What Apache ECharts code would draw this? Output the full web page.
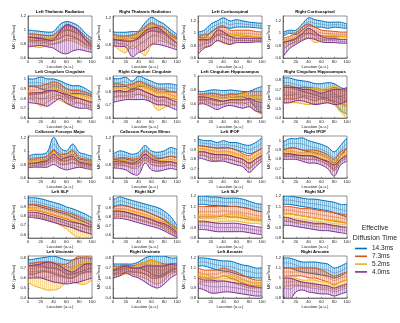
<!DOCTYPE html>
<html><head><meta charset="utf-8">
<script src="https://cdn.jsdelivr.net/npm/echarts@6/dist/echarts.min.js"></script>
<style>html,body{margin:0;padding:0;background:#fff}#c{width:400px;height:323px}</style>
</head><body><div id="c"></div>
<script>
const location_ = [0,10,20,30,40,50,60,70,80,90,100];
const durations = ['14.3ms','7.3ms','5.2ms','4.0ms'];
const titles = ['Left Thalamic Radiation','Right Thalamic Radiation','Left Corticospinal','Right Corticospinal',
 'Left Cingulum Cingulate','Right Cingulum Cingulate','Left Cingulum Hippocampus','Right Cingulum Hippocampus',
 'Callosum Forceps Major','Callosum Forceps Minor','Left IFOF','Right IFOF',
 'Left SLF','Right SLF','Left SLF','Right SLF',
 'Left Uncinate','Right Uncinate','Left Arcuate','Right Arcuate'];
const yMin = [0.6,0.6,0.6,0.6, 0.6,0.6,0.4,0.4, 0.6,0.6,0.6,0.6, 0.56,0.56,0.8,0.8, 0.4,0.4,0.8,0.8];
const yMax = [1.2,1.22,1.28,1.28, 1.03,0.92,1.0,0.84, 1.22,1.22,1.05,1.05, 1.02,1.03,1.2,1.2, 0.82,0.82,1.22,1.22];
const yTicks = [
 [0.6,0.8,1,1.2],[0.6,0.8,1,1.2],[0.6,0.8,1,1.2],[0.6,0.8,1,1.2],
 [0.6,0.7,0.8,0.9,1],[0.6,0.7,0.8,0.9],[0.4,0.6,0.8,1],[0.4,0.5,0.6,0.7,0.8],
 [0.6,0.8,1,1.2],[0.6,0.8,1,1.2],[0.6,0.7,0.8,0.9,1],[0.6,0.7,0.8,0.9,1],
 [0.6,0.7,0.8,0.9,1],[0.6,0.7,0.8,0.9,1],[0.8,0.9,1,1.1,1.2],[0.8,0.9,1,1.1,1.2],
 [0.4,0.5,0.6,0.7,0.8],[0.4,0.5,0.6,0.7,0.8],[0.8,0.9,1,1.1,1.2],[0.8,0.9,1,1.1,1.2]];

// each panel: [14.3 lo, 14.3 hi, 7.3 lo, 7.3 hi, 5.2 lo, 5.2 hi, 4.0 lo, 4.0 hi]
const leftThalamicRadiation = [
 [0.90,0.89,0.88,0.87,0.88,0.96,1.00,0.98,0.94,0.86,0.80],[1.00,0.99,0.98,0.97,0.98,1.08,1.12,1.10,1.05,0.95,0.88],
 [0.86,0.85,0.85,0.84,0.85,0.88,0.92,0.90,0.86,0.80,0.76],[0.95,0.94,0.93,0.92,0.93,1.00,1.06,1.05,1.00,0.90,0.83],
 [0.80,0.76,0.75,0.78,0.80,0.82,0.85,0.84,0.80,0.75,0.72],[0.92,0.88,0.86,0.88,0.90,0.96,1.02,1.00,0.94,0.85,0.78],
 [0.76,0.77,0.78,0.76,0.74,0.68,0.66,0.70,0.72,0.70,0.68],[0.90,0.89,0.88,0.86,0.86,0.98,1.08,1.05,0.98,0.86,0.76]];
const rightThalamicRadiation = [
 [0.86,0.87,0.88,0.89,0.90,0.96,1.00,0.99,0.98,0.93,0.88],[0.98,0.98,0.98,0.99,1.00,1.12,1.20,1.15,1.10,1.02,0.95],
 [0.88,0.86,0.85,0.86,0.88,0.95,1.00,0.98,0.95,0.88,0.82],[0.95,0.93,0.92,0.94,0.98,1.06,1.12,1.08,1.05,0.96,0.90],
 [0.80,0.72,0.68,0.78,0.72,0.64,0.78,0.85,0.84,0.80,0.76],[0.92,0.90,0.88,0.90,0.95,1.02,1.08,1.05,1.00,0.92,0.86],
 [0.78,0.77,0.76,0.62,0.68,0.72,0.80,0.80,0.78,0.75,0.72],[0.88,0.86,0.85,0.85,0.90,1.00,1.04,1.05,0.98,0.90,0.82]];
const leftCorticospinal = [
 [0.95,0.92,1.02,1.08,1.10,1.08,1.10,1.10,1.10,1.09,1.08],[1.02,1.05,1.15,1.20,1.25,1.20,1.22,1.20,1.18,1.17,1.16],
 [0.88,0.88,0.90,0.98,0.98,0.95,0.96,0.95,0.95,0.94,0.94],[0.95,0.98,1.00,1.10,1.12,1.05,1.05,1.05,1.05,1.03,1.02],
 [0.72,0.78,0.80,0.88,0.84,0.82,0.88,0.88,0.88,0.88,0.88],[0.90,0.92,0.95,1.05,1.02,0.98,0.98,0.98,0.96,0.95,0.95],
 [0.66,0.76,0.80,0.88,0.85,0.82,0.85,0.85,0.85,0.86,0.86],[0.90,0.90,0.92,1.05,1.02,0.95,0.92,0.92,0.92,0.92,0.92]];
const rightCorticospinal = [
 [0.95,1.00,0.98,1.05,1.12,1.10,1.10,1.08,1.10,1.09,1.08],[1.02,1.05,1.05,1.15,1.25,1.22,1.20,1.18,1.18,1.18,1.15],
 [0.85,0.88,0.90,0.98,1.00,0.98,0.96,0.95,0.95,0.95,0.95],[0.92,0.95,1.00,1.10,1.15,1.10,1.05,1.04,1.03,1.02,1.02],
 [0.75,0.82,0.85,0.90,0.92,0.85,0.88,0.90,0.90,0.90,0.90],[0.88,0.90,0.95,1.00,1.05,0.98,0.95,0.97,0.97,0.95,0.95],
 [0.62,0.75,0.82,0.88,0.92,0.90,0.86,0.85,0.85,0.84,0.84],[0.85,0.88,0.92,1.00,1.08,1.02,0.95,0.92,0.92,0.90,0.90]];
const leftCingulumCingulate = [
 [0.92,0.92,0.90,0.88,0.88,0.88,0.85,0.85,0.85,0.84,0.82],[1.00,1.00,1.02,1.00,1.00,0.98,0.95,0.93,0.93,0.90,0.86],
 [0.84,0.84,0.85,0.86,0.88,0.86,0.82,0.80,0.80,0.78,0.76],[0.93,0.93,0.93,0.95,0.97,0.95,0.90,0.88,0.88,0.86,0.84],
 [0.80,0.78,0.72,0.76,0.80,0.78,0.75,0.74,0.76,0.72,0.70],[0.87,0.86,0.86,0.88,0.90,0.88,0.86,0.84,0.84,0.82,0.80],
 [0.76,0.75,0.74,0.72,0.76,0.80,0.75,0.72,0.70,0.70,0.68],[0.85,0.86,0.86,0.88,0.88,0.86,0.84,0.82,0.80,0.78,0.76]];
const rightCingulumCingulate = [
 [0.84,0.84,0.84,0.82,0.84,0.84,0.82,0.80,0.80,0.80,0.80],[0.90,0.90,0.91,0.88,0.92,0.90,0.88,0.86,0.86,0.86,0.85],
 [0.80,0.80,0.80,0.80,0.82,0.80,0.78,0.76,0.76,0.75,0.74],[0.86,0.86,0.85,0.86,0.88,0.86,0.84,0.82,0.82,0.80,0.79],
 [0.76,0.76,0.76,0.76,0.78,0.76,0.72,0.66,0.68,0.70,0.70],[0.82,0.83,0.82,0.84,0.86,0.84,0.82,0.80,0.80,0.78,0.76],
 [0.72,0.73,0.74,0.74,0.74,0.74,0.72,0.70,0.70,0.68,0.66],[0.80,0.81,0.80,0.82,0.82,0.80,0.78,0.76,0.76,0.74,0.72]];
const leftCingulumHippocampus = [
 [0.70,0.72,0.72,0.70,0.68,0.70,0.70,0.70,0.66,0.55,0.45],[0.78,0.78,0.80,0.80,0.79,0.80,0.79,0.78,0.78,0.82,0.85],
 [0.66,0.66,0.66,0.64,0.64,0.66,0.66,0.66,0.66,0.66,0.66],[0.74,0.74,0.75,0.74,0.72,0.74,0.74,0.76,0.78,0.78,0.78],
 [0.62,0.62,0.60,0.58,0.60,0.62,0.62,0.62,0.58,0.50,0.45],[0.72,0.72,0.72,0.70,0.68,0.70,0.72,0.74,0.72,0.70,0.70],
 [0.60,0.60,0.56,0.52,0.56,0.58,0.56,0.54,0.56,0.50,0.48],[0.70,0.70,0.68,0.66,0.64,0.66,0.66,0.66,0.68,0.64,0.62]];
const rightCingulumHippocampus = [
 [0.72,0.72,0.70,0.68,0.66,0.64,0.62,0.60,0.56,0.48,0.44],[0.82,0.82,0.80,0.79,0.78,0.76,0.76,0.77,0.76,0.72,0.70],
 [0.60,0.60,0.60,0.62,0.60,0.58,0.60,0.58,0.58,0.55,0.52],[0.74,0.74,0.72,0.72,0.72,0.72,0.70,0.70,0.72,0.70,0.68],
 [0.56,0.56,0.56,0.55,0.54,0.55,0.55,0.56,0.54,0.46,0.40],[0.72,0.72,0.70,0.70,0.70,0.72,0.70,0.72,0.74,0.70,0.66],
 [0.56,0.56,0.58,0.58,0.56,0.54,0.55,0.56,0.54,0.55,0.58],[0.72,0.72,0.72,0.70,0.70,0.68,0.66,0.68,0.70,0.70,0.72]];
const callosumForcepsMajor = [
 [0.85,0.86,0.86,0.88,1.00,0.92,0.90,0.95,0.88,0.86,0.82],[0.92,0.95,0.95,0.98,1.20,1.05,1.00,1.10,0.98,0.95,0.92],
 [0.80,0.82,0.82,0.84,0.90,0.86,0.85,0.88,0.82,0.80,0.78],[0.88,0.88,0.90,0.92,1.02,0.95,0.96,1.00,0.90,0.88,0.86],
 [0.76,0.78,0.78,0.80,0.85,0.80,0.80,0.82,0.78,0.76,0.74],[0.85,0.86,0.86,0.88,0.98,0.90,0.92,0.96,0.86,0.84,0.82],
 [0.75,0.76,0.76,0.76,0.80,0.75,0.72,0.74,0.76,0.74,0.72],[0.82,0.82,0.84,0.86,0.95,0.88,0.90,0.92,0.84,0.82,0.80]];
const callosumForcepsMinor = [
 [0.86,0.88,0.88,0.86,0.88,0.96,0.90,0.88,0.90,0.92,0.90],[0.95,1.00,0.98,0.95,0.98,1.08,1.00,0.98,1.00,1.05,1.02],
 [0.80,0.82,0.82,0.80,0.82,0.90,0.84,0.82,0.82,0.84,0.80],[0.88,0.90,0.90,0.88,0.90,1.00,0.94,0.90,0.90,0.92,0.90],
 [0.76,0.78,0.78,0.76,0.78,0.86,0.80,0.78,0.78,0.80,0.76],[0.85,0.86,0.86,0.84,0.88,0.96,0.90,0.86,0.86,0.88,0.86],
 [0.75,0.74,0.72,0.66,0.65,0.82,0.72,0.70,0.72,0.74,0.72],[0.84,0.85,0.84,0.82,0.86,0.95,0.88,0.85,0.84,0.84,0.82]];
const leftIFOF = [
 [0.95,0.94,0.93,0.92,0.92,0.92,0.90,0.88,0.86,0.88,0.92],[1.02,1.00,1.00,0.98,1.00,0.98,0.98,0.96,0.95,0.98,1.03],
 [0.88,0.88,0.86,0.85,0.85,0.84,0.82,0.80,0.76,0.80,0.84],[0.95,0.94,0.93,0.92,0.93,0.92,0.90,0.86,0.84,0.88,0.92],
 [0.84,0.84,0.80,0.78,0.80,0.80,0.78,0.76,0.70,0.76,0.80],[0.92,0.91,0.90,0.88,0.88,0.88,0.86,0.84,0.80,0.84,0.88],
 [0.82,0.80,0.78,0.78,0.78,0.76,0.74,0.72,0.66,0.72,0.78],[0.88,0.88,0.86,0.85,0.85,0.84,0.82,0.80,0.76,0.80,0.84]];
const rightIFOF = [
 [0.90,0.92,0.92,0.90,0.88,0.87,0.85,0.82,0.76,0.84,0.92],[0.98,1.02,1.02,1.03,1.00,0.98,0.96,0.93,0.88,0.95,1.03],
 [0.84,0.85,0.84,0.84,0.84,0.82,0.80,0.76,0.70,0.80,0.85],[0.90,0.92,0.92,0.90,0.90,0.90,0.88,0.85,0.80,0.88,0.92],
 [0.82,0.83,0.82,0.80,0.80,0.80,0.78,0.74,0.68,0.78,0.82],[0.88,0.90,0.88,0.86,0.87,0.88,0.85,0.82,0.78,0.84,0.88],
 [0.80,0.80,0.80,0.78,0.76,0.76,0.74,0.70,0.62,0.74,0.78],[0.86,0.86,0.85,0.84,0.84,0.83,0.80,0.78,0.74,0.80,0.84]];
const leftSLF = [
 [0.92,0.92,0.90,0.88,0.86,0.84,0.82,0.79,0.76,0.73,0.70],[1.00,1.00,0.99,0.97,0.95,0.93,0.90,0.88,0.85,0.82,0.78],
 [0.86,0.86,0.85,0.83,0.81,0.79,0.77,0.74,0.72,0.69,0.66],[0.93,0.93,0.92,0.90,0.88,0.86,0.84,0.82,0.79,0.76,0.73],
 [0.80,0.80,0.78,0.76,0.74,0.70,0.66,0.60,0.56,0.55,0.55],[0.88,0.88,0.86,0.84,0.82,0.80,0.78,0.76,0.74,0.70,0.66],
 [0.79,0.78,0.77,0.75,0.73,0.71,0.69,0.67,0.64,0.62,0.60],[0.84,0.84,0.83,0.81,0.79,0.77,0.75,0.73,0.72,0.70,0.68]];
const rightSLF = [
 [0.90,0.93,0.92,0.90,0.88,0.86,0.83,0.80,0.76,0.70,0.64],[0.98,1.02,1.00,0.98,0.96,0.94,0.92,0.90,0.86,0.80,0.70],
 [0.86,0.86,0.85,0.83,0.81,0.79,0.76,0.73,0.70,0.66,0.60],[0.92,0.92,0.92,0.90,0.88,0.86,0.83,0.80,0.77,0.72,0.66],
 [0.80,0.80,0.80,0.78,0.76,0.74,0.72,0.70,0.66,0.62,0.58],[0.88,0.88,0.88,0.86,0.84,0.82,0.80,0.77,0.74,0.70,0.64],
 [0.78,0.78,0.77,0.75,0.73,0.71,0.69,0.67,0.64,0.60,0.57],[0.86,0.86,0.85,0.83,0.81,0.79,0.77,0.74,0.72,0.68,0.62]];
const leftSLF2 = [
 [1.12,1.12,1.11,1.11,1.10,1.10,1.10,1.09,1.08,1.06,1.05],[1.20,1.20,1.19,1.19,1.18,1.18,1.18,1.17,1.15,1.13,1.12],
 [1.00,1.00,1.00,1.00,1.01,1.00,1.00,0.99,0.98,0.97,0.97],[1.10,1.10,1.10,1.10,1.11,1.10,1.10,1.09,1.08,1.06,1.05],
 [0.95,0.95,0.95,0.95,0.96,0.96,0.96,0.95,0.94,0.94,0.93],[1.02,1.02,1.02,1.01,1.02,1.03,1.03,1.02,1.00,0.99,0.98],
 [0.88,0.88,0.87,0.86,0.86,0.86,0.86,0.86,0.85,0.84,0.83],[0.96,0.96,0.95,0.94,0.94,0.94,0.94,0.93,0.92,0.91,0.90]];
const rightSLF2 = [
 [1.12,1.12,1.11,1.10,1.09,1.08,1.07,1.06,1.04,1.02,1.00],[1.20,1.20,1.19,1.18,1.17,1.17,1.16,1.15,1.14,1.12,1.12],
 [1.03,1.03,1.02,1.01,1.00,0.99,0.98,0.97,0.96,0.95,0.94],[1.10,1.10,1.09,1.08,1.08,1.07,1.06,1.05,1.04,1.03,1.02],
 [0.96,0.96,0.95,0.95,0.94,0.93,0.93,0.92,0.91,0.90,0.90],[1.03,1.03,1.02,1.01,1.00,0.99,0.98,0.97,0.97,0.96,0.95],
 [0.92,0.92,0.91,0.90,0.89,0.88,0.87,0.87,0.86,0.85,0.84],[1.00,0.99,0.97,0.96,0.95,0.94,0.94,0.93,0.92,0.91,0.90]];
const leftUncinate = [
 [0.72,0.72,0.72,0.70,0.70,0.68,0.64,0.64,0.66,0.68,0.70],[0.78,0.79,0.80,0.81,0.82,0.80,0.78,0.78,0.80,0.80,0.79],
 [0.64,0.64,0.66,0.66,0.64,0.62,0.60,0.60,0.64,0.66,0.66],[0.74,0.75,0.76,0.76,0.75,0.74,0.74,0.78,0.82,0.82,0.80],
 [0.56,0.52,0.50,0.48,0.48,0.50,0.56,0.56,0.54,0.54,0.58],[0.72,0.72,0.72,0.74,0.76,0.72,0.68,0.70,0.74,0.76,0.74],
 [0.60,0.60,0.60,0.58,0.56,0.55,0.54,0.55,0.56,0.58,0.60],[0.72,0.73,0.74,0.76,0.75,0.72,0.68,0.66,0.70,0.74,0.74]];
const rightUncinate = [
 [0.68,0.68,0.70,0.70,0.70,0.68,0.64,0.62,0.64,0.68,0.70],[0.74,0.74,0.74,0.74,0.76,0.80,0.82,0.82,0.82,0.80,0.80],
 [0.64,0.64,0.66,0.66,0.66,0.64,0.60,0.60,0.62,0.66,0.66],[0.72,0.72,0.73,0.72,0.74,0.76,0.78,0.76,0.74,0.74,0.72],
 [0.62,0.62,0.64,0.64,0.62,0.60,0.56,0.54,0.58,0.64,0.66],[0.70,0.70,0.70,0.70,0.74,0.76,0.78,0.76,0.72,0.72,0.72],
 [0.60,0.62,0.65,0.62,0.60,0.56,0.52,0.50,0.54,0.60,0.64],[0.68,0.70,0.72,0.70,0.70,0.72,0.72,0.72,0.72,0.74,0.74]];
const leftArcuate = [
 [1.12,1.12,1.10,1.08,1.07,1.06,1.04,1.02,1.01,1.00,1.00],[1.20,1.20,1.19,1.18,1.17,1.17,1.15,1.13,1.12,1.10,1.10],
 [1.02,1.00,1.00,1.00,1.02,1.00,0.98,0.95,0.93,0.92,0.92],[1.10,1.08,1.08,1.08,1.10,1.08,1.06,1.03,1.00,0.98,0.98],
 [0.96,0.96,0.96,0.96,0.97,0.96,0.94,0.92,0.90,0.90,0.90],[1.04,1.04,1.02,1.00,1.02,1.02,1.00,0.98,0.96,0.95,0.96],
 [0.90,0.88,0.85,0.85,0.86,0.86,0.85,0.84,0.83,0.82,0.82],[1.00,0.98,0.98,0.97,0.97,0.96,0.95,0.94,0.92,0.91,0.90]];
const rightArcuate = [
 [1.10,1.10,1.08,1.06,1.05,1.04,1.03,1.02,1.00,1.02,1.06],[1.20,1.20,1.18,1.16,1.16,1.16,1.15,1.14,1.10,1.12,1.15],
 [1.02,1.02,1.02,1.02,1.00,1.00,0.98,0.96,0.93,0.96,0.98],[1.10,1.10,1.10,1.10,1.10,1.10,1.08,1.05,1.02,1.04,1.06],
 [0.92,0.92,0.93,0.92,0.92,0.92,0.90,0.90,0.88,0.90,0.92],[1.00,1.00,1.00,0.98,0.98,0.98,0.96,0.96,0.94,0.96,0.98],
 [0.82,0.78,0.86,0.88,0.86,0.85,0.84,0.84,0.82,0.84,0.86],[1.00,1.00,0.98,0.96,0.95,0.94,0.93,0.92,0.90,0.92,0.94]];

const panels = [leftThalamicRadiation,rightThalamicRadiation,leftCorticospinal,rightCorticospinal,
 leftCingulumCingulate,rightCingulumCingulate,leftCingulumHippocampus,rightCingulumHippocampus,
 callosumForcepsMajor,callosumForcepsMinor,leftIFOF,rightIFOF,
 leftSLF,rightSLF,leftSLF2,rightSLF2,leftUncinate,rightUncinate,leftArcuate,rightArcuate];

const colors = ['#0072BD','#D95319','#EDB120','#7E2F8E'];
const rgb = [[0,114,189],[217,83,25],[237,177,32],[126,47,142]];
const meanC = ['#56738c','#9a6a5a','#a89a70','#6e5a7c'];
const colLeft = [28,113,198,283];
const ink = '#262626';
const fs = 4.2;

function hatchPattern(c){
  const cv = document.createElement('canvas'); cv.width = 2; cv.height = 2;
  const g = cv.getContext('2d');
  g.fillStyle = 'rgba('+c.join(',')+',0.17)'; g.fillRect(0,0,2,2);
  g.fillStyle = 'rgba('+c.join(',')+',0.36)'; g.fillRect(0,0,1,2);
  return {image: cv, repeat: 'repeat'};
}
const patterns = rgb.map(hatchPattern);

function bbox(pts){
  let x0=Infinity,y0=Infinity,x1=-Infinity,y1=-Infinity;
  pts.forEach(p=>{x0=Math.min(x0,p[0]);y0=Math.min(y0,p[1]);x1=Math.max(x1,p[0]);y1=Math.max(y1,p[1]);});
  return [[x0,y0],[x1,y1]];
}

const grids=[], xAxes=[], yAxes=[], series=[], titleOpts=[];
panels.forEach((p,i)=>{
  const r=Math.floor(i/4), c=i%4;
  const left=colLeft[c], top=16+60*r, w=64, h=42;
  grids.push({left, top, width:w, height:h, show:true, borderColor:ink, borderWidth:0.5, containLabel:false});
  titleOpts.push({text:titles[i], left:left+w/2, top:top-6, textAlign:'center', padding:0,
    textStyle:{fontSize:4.3, fontWeight:'bold', color:'#000', fontFamily:'Liberation Sans'}});
  xAxes.push({type:'value', gridIndex:i, min:0, max:100, interval:20,
    name:'Location (a.u.)', nameLocation:'middle', nameGap:6.5,
    nameTextStyle:{fontSize:fs, color:ink, fontFamily:'Liberation Sans'},
    axisLine:{show:true, lineStyle:{color:ink, width:0.5}},
    axisTick:{inside:true, length:1.2, lineStyle:{color:ink, width:0.5}},
    axisLabel:{fontSize:fs, margin:1.8, color:ink, fontFamily:'Liberation Sans'},
    splitLine:{show:false}});
  yAxes.push({type:'value', gridIndex:i, min:yMin[i], max:yMax[i],
    name:'MK (μm²/ms)', nameLocation:'middle', nameGap:12,
    nameTextStyle:{fontSize:fs, color:ink, fontFamily:'Liberation Sans'},
    axisLine:{show:true, lineStyle:{color:ink, width:0.5}},
    axisTick:{inside:true, length:1.2, customValues:yTicks[i], lineStyle:{color:ink, width:0.5}},
    axisLabel:{fontSize:fs, margin:1.8, color:ink, customValues:yTicks[i], fontFamily:'Liberation Sans'},
    splitLine:{show:false}});
  for(let k=0;k<4;k++){
    const lo=p[2*k], hi=p[2*k+1];
    series.push({type:'custom', name:durations[k], xAxisIndex:i, yAxisIndex:i, clip:true, silent:true,
      itemStyle:{color:colors[k]},
      data:location_.map((x,j)=>[x, lo[j], hi[j]]),
      encode:{x:0, y:[1,2]},
      renderItem:(params, api)=>{
        if(params.dataIndex!==0) return null;
        const top_=location_.map((x,j)=>api.coord([x,hi[j]]));
        const bot=location_.map((x,j)=>api.coord([x,lo[j]]));
        const mid=location_.map((x,j)=>api.coord([x,(lo[j]+hi[j])/2]));
        const poly=top_.concat(bot.slice().reverse());
        return {type:'group', children:[
          {type:'polygon', shape:{points:poly, smooth:0.35, smoothConstraint:bbox(poly)},
            style:{fill:patterns[k], stroke:null}},
          {type:'polyline', shape:{points:mid, smooth:0.35}, style:{fill:null, stroke:meanC[k], lineWidth:0.6, opacity:0.8}},
          {type:'polyline', shape:{points:top_, smooth:0.35}, style:{fill:null, stroke:colors[k], lineWidth:1.0}},
          {type:'polyline', shape:{points:bot, smooth:0.35}, style:{fill:null, stroke:colors[k], lineWidth:1.0}}
        ]};
      }});
  }
});

const chart = echarts.init(document.getElementById('c'), null, {renderer:'canvas'});
chart.setOption({
  animation:false,
  backgroundColor:'#fff',
  title:titleOpts,
  grid:grids, xAxis:xAxes, yAxis:yAxes, series,
  legend:{orient:'vertical', left:355, top:245, itemWidth:12, itemHeight:1.6, itemGap:0.8, padding:0,
    selectedMode:false, textStyle:{fontSize:6.5, color:ink, fontFamily:'Liberation Sans'},
    data:durations.map((n,k)=>({name:n, icon:'rect', itemStyle:{color:colors[k]}}))},
  graphic:[
    {type:'text', x:375, y:228, style:{text:'Effective', fontSize:7, fill:ink, align:'center', verticalAlign:'middle', fontFamily:'Liberation Sans'}},
    {type:'text', x:375, y:238, style:{text:'Diffusion Time', fontSize:7, fill:ink, align:'center', verticalAlign:'middle', fontFamily:'Liberation Sans'}}
  ]
});
</script></body></html>
